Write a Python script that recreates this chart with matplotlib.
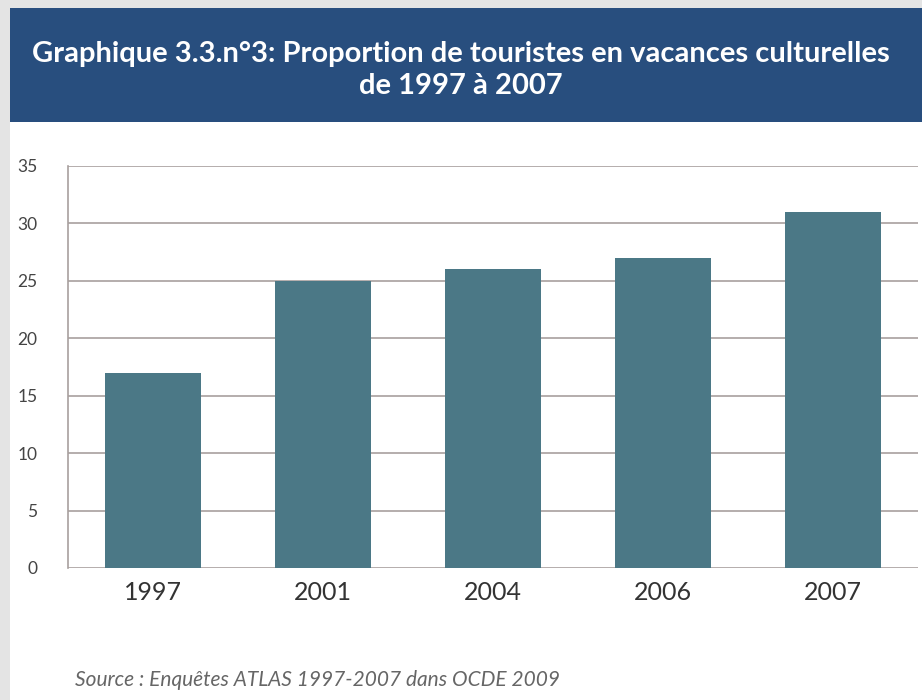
import matplotlib.pyplot as plt
from matplotlib.patches import Rectangle

# data
years = ["1997", "2001", "2004", "2006", "2007"]
share = [17, 25, 26, 27, 31]
y_ticks = [0, 5, 10, 15, 20, 25, 30, 35]

title = "Graphique 3.3.n°3: Proportion de touristes en vacances culturelles\nde 1997 à 2007"
source = "Source : Enquêtes ATLAS 1997-2007 dans OCDE 2009"

bar_color = "#4b7886"
grid_color = "#a8a09e"
header_color = "#284e7e"

fig = plt.figure(figsize=(9.22, 7), dpi=100)
W, H = 922, 700

# outer frame / background
fig.patches.append(Rectangle((0, 0), 1, 1, transform=fig.transFigure, facecolor="#e4e4e4", zorder=-3))
fig.patches.append(Rectangle((10 / W, 0), 1, 1 - 8 / H, transform=fig.transFigure, facecolor="white", zorder=-2))

# title band
fig.patches.append(Rectangle((10 / W, 1 - 122 / H), 1, 114 / H, transform=fig.transFigure,
                             facecolor=header_color, zorder=-1))
fig.text(461 / W, 1 - 70 / H, title, ha="center", va="center", color="white",
         fontsize=21, fontweight="bold", family="Lato", linespacing=1.3)

ax = fig.add_axes([68 / W, 1 - 568 / H, (918 - 68) / W, (568 - 166) / H])
x = range(len(years))
ax.bar(x, share, width=0.565, color=bar_color, zorder=3)
ax.set_xlim(-0.5, len(years) - 0.5)
ax.set_ylim(0, 35)
ax.set_yticks(y_ticks)
ax.set_xticks(list(x))
ax.set_xticklabels(years)
ax.grid(axis="y", color=grid_color, linewidth=1.2, zorder=0)
for s in ["top", "right", "bottom"]:
    ax.spines[s].set_visible(False)
ax.spines["left"].set_color(grid_color)
ax.spines["left"].set_linewidth(1.2)
ax.tick_params(axis="y", length=0, pad=22, labelsize=12.5, labelcolor="#444444")
ax.tick_params(axis="x", length=0, pad=9, labelsize=18, labelcolor="#333333")
for lbl in ax.get_yticklabels() + ax.get_xticklabels():
    lbl.set_family("Lato")

fig.text(75 / W, 1 - 680 / H, source, ha="left", va="center", color="#666666",
         fontsize=15, style="italic", family="Lato")

fig.savefig("out.png", dpi=100)
